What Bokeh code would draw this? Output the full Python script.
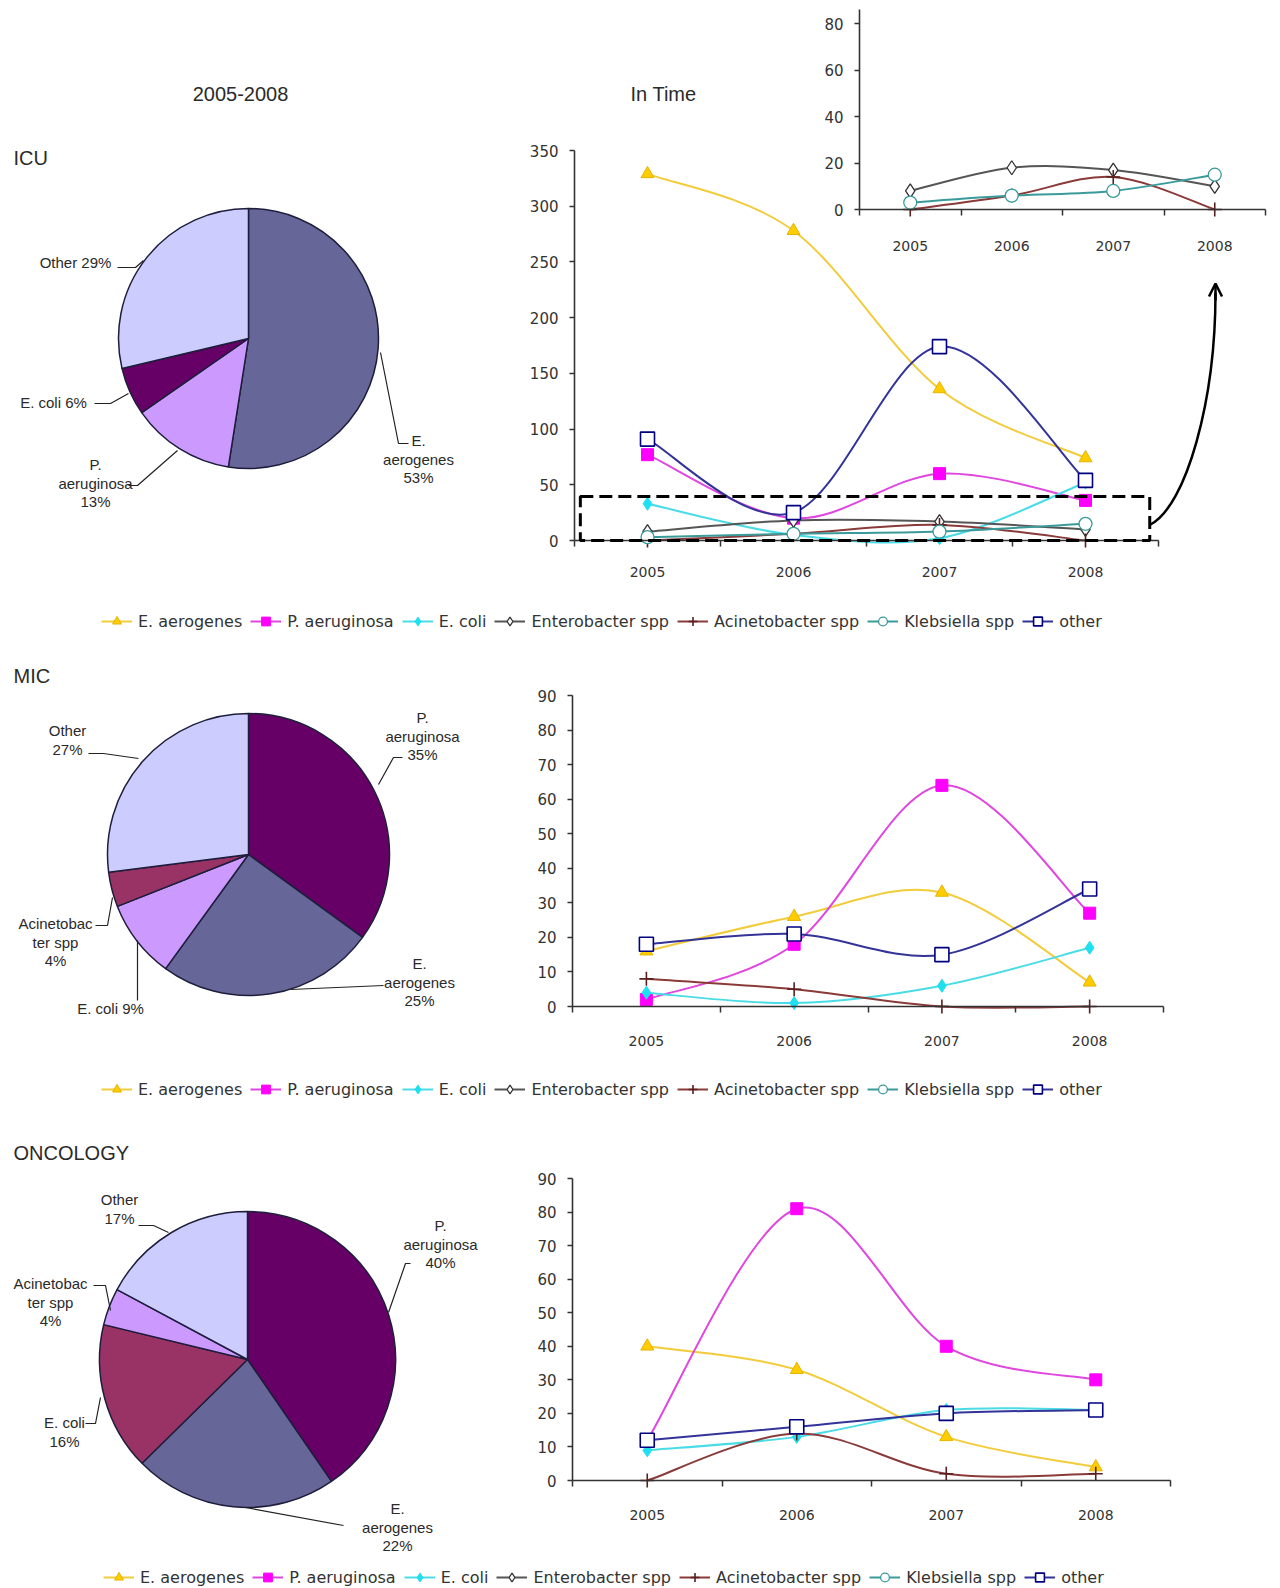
import math

import numpy as np
from bokeh.core.properties import value
from bokeh.embed import file_html
from bokeh.layouts import column
from bokeh.models import (Arrow, BoxAnnotation, ColumnDataSource, FixedTicker, Label,
                          LabelSet, Legend, LegendItem, LinearAxis, OpenHead, Range1d)
from bokeh.plotting import figure
from bokeh.resources import INLINE

NaN = float("nan")

# ---------------------------------------------------------------- data
years = ["2005", "2006", "2007", "2008"]
series = ["E. aerogenes", "P. aeruginosa", "E. coli", "Enterobacter spp",
          "Acinetobacter spp", "Klebsiella spp", "other"]

# isolates per year, ICU
icu_e_aerogenes = [329, 278, 136, 74]
icu_p_aeruginosa = [77, 20, 60, 36]
icu_e_coli = [33, 5, 2, 52]
icu_enterobacter = [8, 18, 17, 10]
icu_acinetobacter = [0, 6, 14, 0]
icu_klebsiella = [3, 6, 8, 15]
icu_other = [91, 25, 174, 54]

# isolates per year, MIC
mic_e_aerogenes = [16, 26, 33, 7]
mic_p_aeruginosa = [2, 18, 64, 27]
mic_e_coli = [4, 1, 6, 17]
mic_enterobacter = [NaN, NaN, NaN, NaN]
mic_acinetobacter = [8, 5, 0, 0]
mic_klebsiella = [NaN, NaN, NaN, NaN]
mic_other = [18, 21, 15, 34]

# isolates per year, oncology
onc_e_aerogenes = [40, 33, 13, 4]
onc_p_aeruginosa = [12, 81, 40, 30]
onc_e_coli = [9, 13, 21, 21]
onc_enterobacter = [NaN, NaN, NaN, NaN]
onc_acinetobacter = [0, 14, 2, 2]
onc_klebsiella = [NaN, NaN, NaN, NaN]
onc_other = [12, 16, 20, 21]

# share of isolates 2005-2008 (%)
icu_pie_groups = ["E. aerogenes", "P. aeruginosa", "E. coli", "Other"]
icu_pie_pct = [53, 13, 6, 29]
mic_pie_groups = ["P. aeruginosa", "E. aerogenes", "E. coli", "Acinetobacter spp", "Other"]
mic_pie_pct = [35, 25, 9, 4, 27]
onc_pie_groups = ["P. aeruginosa", "E. aerogenes", "E. coli", "Acinetobacter spp", "Other"]
onc_pie_pct = [40, 22, 16, 4, 17]

icu_y_ticks = [0, 50, 100, 150, 200, 250, 300, 350]
inset_y_ticks = [0, 20, 40, 60, 80]
ward_y_ticks = [0, 10, 20, 30, 40, 50, 60, 70, 80, 90]

# ---------------------------------------------------------------- styles
STYLE = {
    "E. aerogenes": dict(line="#F2CC3A", marker="triangle", fill="#FFCC00", edge="#E6B400", size=13, lw=1),
    "P. aeruginosa": dict(line="#E046E0", marker="square", fill="#FF00FF", edge="#FF00FF", size=12, lw=1),
    "E. coli": dict(line="#4ADCE6", marker="diamond", fill="#1EE0F0", edge="#1EE0F0", size=13, lw=1),
    "Enterobacter spp": dict(line="#555555", marker="diamond", fill="white", edge="#333333", size=14, lw=1.3),
    "Acinetobacter spp": dict(line="#8B3A3A", marker="cross", fill=None, edge="#5A1F1F", size=14, lw=1.6),
    "Klebsiella spp": dict(line="#3A9A9A", marker="circle", fill="white", edge="#3A9A9A", size=13, lw=1.3),
    "other": dict(line="#333399", marker="square", fill="white", edge="#000080", size=14, lw=1.6),
}
PIE_EDGE = "#1E1E3C"
TEXT = "#2A2A2A"
AXIS = "#333333"
PAGE_W = 1280

icu_pie_colors = ["#666699", "#CC99FF", "#660066", "#CCCCFF"]
mic_pie_colors = ["#660066", "#666699", "#CC99FF", "#993366", "#CCCCFF"]
onc_pie_colors = ["#660066", "#666699", "#993366", "#CC99FF", "#CCCCFF"]

centers = list(range(len(years)))
bins = [i - 0.5 for i in range(len(years) + 1)]


def smooth(xs, ys):
    """Cubic Bezier pieces of a Catmull-Rom style smoothed line."""
    pts = [(x, y) for x, y in zip(xs, ys) if not math.isnan(y)]
    out = {k: [] for k in ["x0", "y0", "x1", "y1", "cx0", "cy0", "cx1", "cy1"]}
    n = len(pts)
    for i in range(n - 1):
        p0, p1, p2, p3 = pts[max(i - 1, 0)], pts[i], pts[i + 1], pts[min(i + 2, n - 1)]
        out["x0"].append(p1[0]); out["y0"].append(p1[1])
        out["x1"].append(p2[0]); out["y1"].append(p2[1])
        out["cx0"].append(p1[0] + (p2[0] - p0[0]) / 6)
        out["cy0"].append(p1[1] + (p2[1] - p0[1]) / 6)
        out["cx1"].append(p2[0] - (p3[0] - p1[0]) / 6)
        out["cy1"].append(p2[1] - (p3[1] - p1[1]) / 6)
    return out


def draw_series(p, name, values, xr="default", yr="default"):
    st = STYLE[name]
    seg = smooth(centers, values)
    xs = np.array(centers, dtype=float)
    ys = np.array(values, dtype=float)
    if seg["x0"]:
        line_r = p.bezier(source=ColumnDataSource(seg), x0="x0", y0="y0", x1="x1", y1="y1",
                          cx0="cx0", cy0="cy0", cx1="cx1", cy1="cy1",
                          line_color=st["line"], line_width=2, x_range_name=xr, y_range_name=yr)
    else:
        # no isolates recorded: keeps the series' line style for the key
        line_r = p.line(x=xs, y=ys, line_color=st["line"], line_width=2,
                        x_range_name=xr, y_range_name=yr)
    mark_r = p.scatter(x=xs, y=ys, marker=st["marker"], size=st["size"], fill_color=st["fill"],
                       line_color=st["edge"], line_width=st["lw"], x_range_name=xr, y_range_name=yr)
    return line_r, mark_r


def style_axis(ax, font_size):
    ax.axis_line_color = AXIS
    ax.axis_line_width = 1.6
    ax.major_tick_line_color = AXIS
    ax.major_tick_line_width = 1.5
    ax.minor_tick_line_color = AXIS
    ax.minor_tick_line_width = 1.5
    ax.major_label_text_font = "DejaVu Sans"
    ax.major_label_text_font_size = font_size
    ax.major_label_text_color = AXIS


def year_axis(standoff, **names):
    ax = LinearAxis(fixed_location=0, bounds=(bins[0], bins[-1]),
                    ticker=FixedTicker(ticks=centers, minor_ticks=bins),
                    major_label_overrides={c: y for c, y in zip(centers, years)}, **names)
    style_axis(ax, "14px")
    ax.major_tick_line_color = None
    ax.major_tick_out = 0
    ax.major_tick_in = 0
    ax.minor_tick_out = 6
    ax.minor_tick_in = 0
    ax.major_label_standoff = standoff
    return ax


def count_axis(ticks, top, **names):
    ax = LinearAxis(fixed_location=bins[0], bounds=(0, top),
                    ticker=FixedTicker(ticks=ticks), **names)
    style_axis(ax, "15px")
    ax.major_tick_out = 5
    ax.major_tick_in = 0
    ax.minor_tick_out = 0
    ax.minor_tick_in = 0
    ax.major_label_standoff = 11
    return ax


def page_text(p, text, x, y, size="15px", align="center"):
    p.add_layout(Label(x=x, y=-y, text=text, text_align=align, text_baseline="middle",
                       text_font="Liberation Sans", text_font_size=size, text_color=TEXT,
                       x_range_name="px", y_range_name="px"))


def pie(p, center, radius, groups, pct, colors, label_lines, label_pos, leaders):
    total = sum(pct)
    starts, ends, acc = [], [], 0
    for v in pct:
        starts.append(math.pi / 2 - 2 * math.pi * acc / total)
        acc += v
        ends.append(math.pi / 2 - 2 * math.pi * acc / total)
    src = ColumnDataSource(dict(start=starts, end=ends, color=colors, group=groups))
    p.wedge(x=center[0], y=-center[1], radius=radius, start_angle="start", end_angle="end",
            direction="clock", fill_color="color", line_color=PIE_EDGE, line_width=1.5,
            source=src, x_range_name="px", y_range_name="px")
    p.multi_line(xs=[[q[0] for q in path] for path in leaders],
                 ys=[[-q[1] for q in path] for path in leaders],
                 line_color="#222222", line_width=1.2, x_range_name="px", y_range_name="px")
    lx, ly, lt = [], [], []
    for lines, v, (x, y) in zip(label_lines, pct, label_pos):
        for j, s in enumerate(lines):
            lx.append(x); ly.append(-(y + 18.5 * j)); lt.append(s.format(v))
    p.add_layout(LabelSet(x="x", y="y", text="text", source=ColumnDataSource(dict(x=lx, y=ly, text=lt)),
                          text_align="center", text_baseline="middle",
                          text_font=value("Liberation Sans"), text_font_size=value("15px"),
                          text_color=TEXT, x_range_name="px", y_range_name="px"))


def legend(p, renderers, left, bottom, section_bottom):
    items = [LegendItem(label=name, renderers=list(rs)) for name, rs in zip(series, renderers)]
    lg = Legend(items=items, orientation="horizontal",
                location=(left, section_bottom - bottom),
                glyph_width=31, glyph_height=22, label_height=22, label_standoff=6,
                spacing=8, padding=0, margin=0, border_line_color=None,
                background_fill_alpha=0, label_text_font="DejaVu Sans",
                label_text_font_size="16px", label_text_color=AXIS)
    p.add_layout(lg)


def section(top, height, first_center, x_ppu, zero_y, y_ppu):
    """One ward: the plot frame fills the whole canvas, axes sit at fixed locations."""
    bottom = top + height
    x_range = Range1d(-first_center / x_ppu, (PAGE_W - first_center) / x_ppu)
    y_range = Range1d((zero_y - bottom) / y_ppu, (zero_y - top) / y_ppu)
    p = figure(width=PAGE_W, height=height, x_range=x_range, y_range=y_range,
               x_axis_type=None, y_axis_type=None, title=None,
               output_backend="svg", toolbar_location=None,
               min_border_left=0, min_border_right=0, min_border_top=0, min_border_bottom=0)
    p.outline_line_color = None
    p.background_fill_color = "white"
    p.border_fill_color = "white"
    p.extra_x_ranges = {"px": Range1d(0, PAGE_W)}
    p.extra_y_ranges = {"px": Range1d(-bottom, -top)}
    return p


# ---------------------------------------------------------------- ICU
ICU_TOP, ICU_H = 0, 640
icu = section(ICU_TOP, ICU_H, first_center=647, x_ppu=146, zero_y=540, y_ppu=390 / 350)
icu.extra_x_ranges["ix"] = Range1d(-909.75 / 101.5, (PAGE_W - 909.75) / 101.5)
icu.extra_y_ranges["iy"] = Range1d((209 - ICU_TOP - ICU_H) / 2.32, (209 - ICU_TOP) / 2.32)

page_text(icu, "2005-2008", 240, 93, size="20px")
page_text(icu, "In Time", 663, 93, size="20px")
page_text(icu, "ICU", 13, 157, size="20px", align="left")

pie(icu, (248, 338), 130, icu_pie_groups, icu_pie_pct, icu_pie_colors,
    label_lines=[["E.", "aerogenes", "{}%"], ["P.", "aeruginosa", "{}%"], ["E. coli {}%"], ["Other {}%"]],
    label_pos=[(418, 440), (95, 464), (53, 402), (75, 262)],
    leaders=[[(380, 352), (398, 443), (408, 443)], [(177, 450), (137, 485), (128, 485)],
             [(128, 393), (110, 403), (94, 403)], [(143, 260), (135, 267), (117, 267)]])

icu.add_layout(count_axis(icu_y_ticks, 350), "left")
icu.add_layout(year_axis(20), "below")
icu.add_layout(count_axis(inset_y_ticks, 86, x_range_name="ix", y_range_name="iy"), "left")
icu.add_layout(year_axis(25, x_range_name="ix", y_range_name="iy"), "below")

icu_values = [icu_e_aerogenes, icu_p_aeruginosa, icu_e_coli, icu_enterobacter,
              icu_acinetobacter, icu_klebsiella, icu_other]
icu_r = [draw_series(icu, name, vals) for name, vals in zip(series, icu_values)]
for name, vals in zip(series[3:6], icu_values[3:6]):
    draw_series(icu, name, vals, xr="ix", yr="iy")

# low-count window magnified in the inset
icu.add_layout(BoxAnnotation(left=-0.46, right=3.44, bottom=0, top=39.5, fill_color=None,
                             line_color="black", line_alpha=1.0, line_width=3, line_dash="13 6"))
icu.bezier(x0=[1150], y0=[-524], x1=[1215], y1=[-292], cx0=[1186], cy0=[-505],
           cx1=[1215], cy1=[-400], line_color="black", line_width=2.5,
           x_range_name="px", y_range_name="px")
icu.add_layout(Arrow(end=OpenHead(size=13, line_width=2.5, line_color="black"),
                     x_start=1215, y_start=-300, x_end=1215, y_end=-283,
                     line_color="black", line_width=2.5, x_range_name="px", y_range_name="px"))
legend(icu, icu_r, 101, 632, ICU_TOP + ICU_H)

# ---------------------------------------------------------------- MIC
MIC_TOP, MIC_H = 640, 470
mic = section(MIC_TOP, MIC_H, first_center=645.9, x_ppu=147.75, zero_y=1006, y_ppu=311 / 90)
page_text(mic, "MIC", 13, 675, size="20px", align="left")
pie(mic, (248, 854), 141, mic_pie_groups, mic_pie_pct, mic_pie_colors,
    label_lines=[["P.", "aeruginosa", "{}%"], ["E.", "aerogenes", "{}%"], ["E. coli {}%"],
                 ["Acinetobac", "ter spp", "{}%"], ["Other", "{}%"]],
    label_pos=[(422, 717), (419, 963), (110, 1008), (55, 923), (67, 730)],
    leaders=[[(378, 784), (393, 757), (402, 757)], [(290, 989), (383, 985)],
             [(137, 940), (137, 1000)], [(112, 897), (107, 925), (95, 925)],
             [(138, 758), (103, 753), (88, 753)]])
mic.add_layout(count_axis(ward_y_ticks, 90), "left")
mic.add_layout(year_axis(23), "below")
mic_values = [mic_e_aerogenes, mic_p_aeruginosa, mic_e_coli, mic_enterobacter,
              mic_acinetobacter, mic_klebsiella, mic_other]
mic_r = [draw_series(mic, name, vals) for name, vals in zip(series, mic_values)]
legend(mic, mic_r, 101, 1100, MIC_TOP + MIC_H)

# ---------------------------------------------------------------- ONCOLOGY
ONC_TOP, ONC_H = 1110, 478
onc = section(ONC_TOP, ONC_H, first_center=646.75, x_ppu=149.5, zero_y=1480, y_ppu=302 / 90)
page_text(onc, "ONCOLOGY", 13, 1152, size="20px", align="left")
pie(onc, (247, 1359), 148, onc_pie_groups, onc_pie_pct, onc_pie_colors,
    label_lines=[["P.", "aeruginosa", "{}%"], ["E.", "aerogenes", "{}%"], ["E. coli", "{}%"],
                 ["Acinetobac", "ter spp", "{}%"], ["Other", "{}%"]],
    label_pos=[(440, 1225), (397, 1508), (64, 1422), (50, 1283), (119, 1199)],
    leaders=[[(388, 1312), (405, 1263), (410, 1263)], [(245, 1507), (343, 1525)],
             [(100, 1397), (95, 1423), (85, 1423)], [(110, 1310), (105, 1285), (93, 1285)],
             [(168, 1232), (153, 1225), (138, 1225)]])
onc.add_layout(count_axis(ward_y_ticks, 90), "left")
onc.add_layout(year_axis(23), "below")
onc_values = [onc_e_aerogenes, onc_p_aeruginosa, onc_e_coli, onc_enterobacter,
              onc_acinetobacter, onc_klebsiella, onc_other]
onc_r = [draw_series(onc, name, vals) for name, vals in zip(series, onc_values)]
legend(onc, onc_r, 103, 1588, ONC_TOP + ONC_H)

page = column(icu, mic, onc, spacing=0)
open("out.html", "w").write(file_html(page, INLINE))
